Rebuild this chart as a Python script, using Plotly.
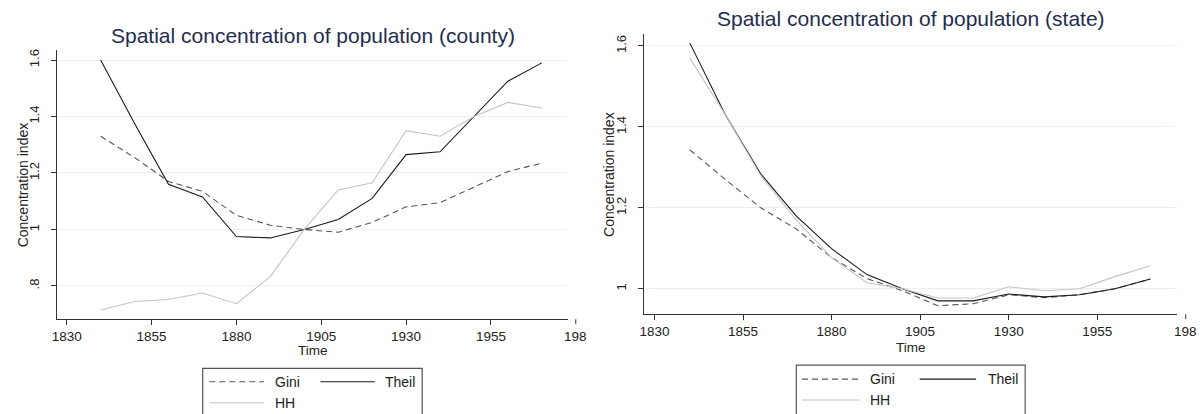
import plotly.graph_objects as go

years = [1840, 1850, 1860, 1870, 1880, 1890, 1900, 1910, 1920, 1930, 1940, 1950, 1960, 1970]

county_gini = [1.33, 1.255, 1.17, 1.135, 1.05, 1.015, 1.0, 0.99, 1.025, 1.08, 1.095, 1.15, 1.205, 1.235]
county_theil = [1.60, 1.375, 1.16, 1.115, 0.975, 0.97, 1.0, 1.035, 1.11, 1.265, 1.275, 1.40, 1.525, 1.59]
county_hh = [0.715, 0.745, 0.752, 0.775, 0.737, 0.833, 1.0, 1.14, 1.165, 1.35, 1.33, 1.40, 1.45, 1.43]

state_gini = [1.343, 1.27, 1.20, 1.148, 1.077, 1.025, 0.995, 0.958, 0.963, 0.985, 0.978, 0.985, 1.0, 1.024]
state_theil = [1.607, 1.43, 1.284, 1.18, 1.099, 1.035, 1.0, 0.97, 0.97, 0.987, 0.98, 0.985, 1.0, 1.024]
state_hh = [1.57, 1.43, 1.28, 1.17, 1.077, 1.015, 1.0, 0.977, 0.977, 1.005, 0.995, 1.0, 1.03, 1.057]

x_ticks = [1830, 1855, 1880, 1905, 1930, 1955]
x_extra_tick = 1980
x_extra_label = "198"
county_yticks = [0.8, 1.0, 1.2, 1.4, 1.6]
county_ylabels = [".8", "1", "1.2", "1.4", "1.6"]
state_yticks = [1.0, 1.2, 1.4, 1.6]
state_ylabels = ["1", "1.2", "1.4", "1.6"]

titles = ["Spatial concentration of population (county)", "Spatial concentration of population (state)"]
series_names = ["Gini", "Theil", "HH"]
x_title = "Time"
y_title = "Concentration index"

W, H = 1200, 414
FONT = "Liberation Sans, Arial, sans-serif"
GINI_C = "#555555"
THEIL_C = "#1a1a1a"
HH_C = "#c4c4c4"
AX_C = "#333333"
GRID_C = "#e8f0f0"
TITLE_C = "#1f2d4f"
TXT_C = "#222222"


def px(x):
    return x / W


def py(y):
    return 1 - y / H


fig = go.Figure()

panels = [
    dict(xa="x", ya="y", xd=(51.7, 565), yd=(49.3, 319), xr=(1827.27, 1977.76), yr=(0.682, 1.635),
         data=(county_gini, county_theil, county_hh), yt=county_yticks, yl=county_ylabels,
         title_y=35, ytitle_x=16.7, time_y=350.7,
         legend_box=(197.7, 368.3, 220.6), row_y=(381.7, 402.7),
         cols=((204.3, 259.3, 268.3), (316, 370.7, 379.3))),
    dict(xa="x2", ya="y2", xd=(641.7, 1176.7), yd=(33.3, 314), xr=(1827.19, 1977.47), yr=(0.937, 1.629),
         data=(state_gini, state_theil, state_hh), yt=state_yticks, yl=state_ylabels,
         title_y=18, ytitle_x=606.7, time_y=347.7,
         legend_box=(794.3, 365, 230), row_y=(379, 400),
         cols=((800, 858.3, 866.7), (918.3, 975, 985))),
]

styles = [
    dict(color=GINI_C, width=1.1, dash="6px,4px"),
    dict(color=THEIL_C, width=1.1),
    dict(color=HH_C, width=1.1),
]

annotations = []
shapes = []

for i, p in enumerate(panels):
    for name, vals, st in zip(series_names, p["data"], styles):
        fig.add_trace(go.Scatter(x=years, y=vals, mode="lines", name=name, line=st,
                                 xaxis=p["xa"], yaxis=p["ya"], showlegend=False,
                                 hoverinfo="x+y+name"))
    xkey = "xaxis" if i == 0 else "xaxis2"
    ykey = "yaxis" if i == 0 else "yaxis2"
    fig.update_layout(**{
        xkey: dict(domain=[px(p["xd"][0]), px(p["xd"][1])], range=list(p["xr"]),
                   anchor=p["ya"], showgrid=False, zeroline=False, showline=True,
                   linecolor=AX_C, linewidth=1, ticks="outside", ticklen=5,
                   tickcolor=AX_C, tickvals=x_ticks, ticktext=[str(t) for t in x_ticks],
                   tickfont=dict(family=FONT, size=13.5, color=TXT_C)),
        ykey: dict(domain=[py(p["yd"][1]), py(p["yd"][0])], range=list(p["yr"]),
                   anchor=p["xa"], showgrid=True, gridcolor=GRID_C, gridwidth=1,
                   zeroline=False, showline=True, linecolor=AX_C, linewidth=1,
                   ticks="outside", ticklen=5, tickcolor=AX_C, tickvals=p["yt"],
                   ticktext=p["yl"], tickangle=-90, ticklabelstandoff=7,
                   tickfont=dict(family=FONT, size=13, color=TXT_C)),
    })
    d0, d1 = p["xd"]
    r0, r1 = p["xr"]
    xcenter = (d0 + d1) / 2
    # extra truncated tick at 1980 (positioned via axis range)
    xe = d0 + (x_extra_tick - r0) / (r1 - r0) * (d1 - d0)
    ybot = p["yd"][1]
    shapes.append(dict(type="line", xref="paper", yref="paper", x0=px(xe), x1=px(xe),
                       y0=py(ybot), y1=py(ybot + 5), line=dict(color=AX_C, width=1)))
    annotations.append(dict(text=x_extra_label, xref="paper", yref="paper", x=px(xe), y=py(ybot + 8),
                            xanchor="center", yanchor="top", showarrow=False,
                            font=dict(family=FONT, size=13.5, color=TXT_C)))
    # axis titles
    annotations.append(dict(text=x_title, xref="paper", yref="paper", x=px(xcenter), y=py(p["time_y"]),
                            xanchor="center", yanchor="middle", showarrow=False,
                            font=dict(family=FONT, size=13.5, color=TXT_C)))
    annotations.append(dict(text=y_title, xref="paper", yref="paper", x=px(p["ytitle_x"]),
                            y=py((p["yd"][0] + p["yd"][1]) / 2), textangle=-90,
                            xanchor="center", yanchor="middle", showarrow=False,
                            font=dict(family=FONT, size=14, color=TXT_C)))
    # title
    annotations.append(dict(text=titles[i], xref="paper", yref="paper", x=px(xcenter),
                            y=py(p["title_y"]), xanchor="center", yanchor="middle", showarrow=False,
                            font=dict(family=FONT, size=21, color=TITLE_C)))
    # legend box
    bx, by, bw = p["legend_box"]
    shapes.append(dict(type="rect", xref="paper", yref="paper", x0=px(bx), x1=px(bx + bw),
                       y0=py(by), y1=py(by + 70), line=dict(color="#555", width=1.2), fillcolor="white"))
    entries = [(0, 0, styles[0], series_names[0]), (0, 1, styles[1], series_names[1]),
               (1, 0, styles[2], series_names[2])]
    for row, col, st, label in entries:
        lx0, lx1, tx = p["cols"][col]
        ly = p["row_y"][row]
        shapes.append(dict(type="line", xref="paper", yref="paper", x0=px(lx0), x1=px(lx1),
                           y0=py(ly), y1=py(ly), line=dict(color=st["color"], width=1.1,
                           dash="6px,4px" if "dash" in st else "solid")))
        annotations.append(dict(text=label, xref="paper", yref="paper", x=px(tx), y=py(ly),
                                xanchor="left", yanchor="middle", showarrow=False,
                                font=dict(family=FONT, size=14, color=TXT_C)))

fig.update_layout(width=W, height=H, margin=dict(l=0, r=0, t=0, b=0),
                  paper_bgcolor="white", plot_bgcolor="white", showlegend=False,
                  annotations=annotations, shapes=shapes)

fig.write_html("out.html")
